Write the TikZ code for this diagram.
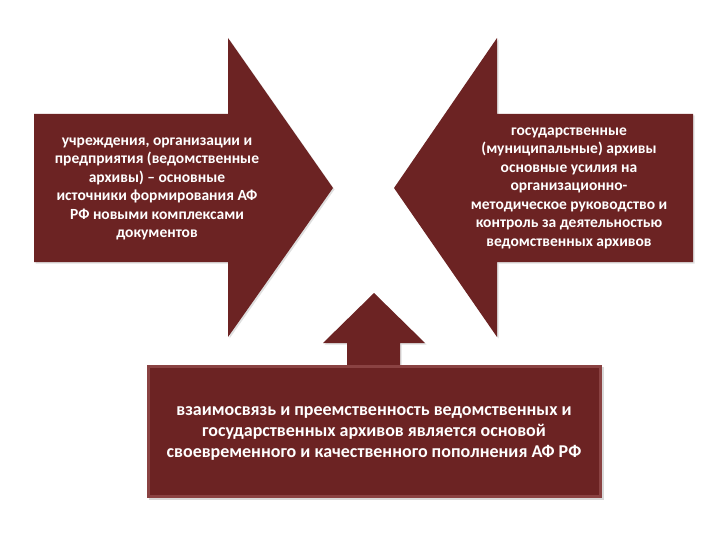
\documentclass[tikz,border=0pt]{standalone}
\usepackage{fontspec}
\setmainfont{Carlito}
\usetikzlibrary{shadows,positioning}
\definecolor{archRed}{RGB}{108,35,35}
\definecolor{archEdge}{RGB}{138,66,66}

\begin{document}
\begin{tikzpicture}[x=1pt,y=-1pt]

    \tikzstyle{commonText}=[text=white, font=\bfseries\fontsize{15.5}{18.5}\selectfont, align=center, inner sep=0pt]
    \tikzstyle{bigText}=[commonText, font=\bfseries\fontsize{18}{21}\selectfont]
    \tikzstyle{arrowBody}=[fill=archRed, drop shadow={shadow xshift=1.5pt, shadow yshift=-1.5pt, opacity=0.25}]
    \tikzstyle{bevelBox}=[fill=archEdge, drop shadow={shadow xshift=1.5pt, shadow yshift=-2pt, opacity=0.3}]

    \useasboundingbox (0,0) rectangle (720,540);

    % Spacing the shapes out
    \def \bodyTop {114}
    \def \bodyBot {262}
    \def \headTop {38}
    \def \headBot {337}
    \def \midY {188}

    % Left arrow
    \path[arrowBody] (34,\bodyTop) -- (228,\bodyTop) -- (228,\headTop) -- (333,\midY)
        -- (228,\headBot) -- (228,\bodyBot) -- (34,\bodyBot) -- cycle;

    % Right arrow
    \path[arrowBody] (693,\bodyTop) -- (497,\bodyTop) -- (497,\headTop) -- (394,\midY)
        -- (497,\headBot) -- (497,\bodyBot) -- (693,\bodyBot) -- cycle;

    % Up arrow
    \path[arrowBody] (374,293) -- (425,343) -- (400,343) -- (400,372)
        -- (347,372) -- (347,343) -- (323,343) -- cycle;

    % Bottom box
    \path[bevelBox] (147,365) rectangle (602,498);
    \fill[archRed] (150,368) rectangle (599,495);

    % Texts
    \node[commonText] (sources) at (157,189)
        {учреждения, организации и\\
         предприятия (ведомственные\\
         архивы) -- основные\\
         источники формирования АФ\\
         РФ новыми комплексами\\
         документов};
    \node[commonText] (stateArchives) at (569,188)
        {государственные\\
         (муниципальные) архивы\\
         основные усилия на\\
         организационно-\\
         методическое руководство и\\
         контроль за деятельностью\\
         ведомственных архивов};
    \node[bigText] (interaction) at (374,433)
        {взаимосвязь и преемственность ведомственных и\\
         государственных архивов является основой\\
         своевременного и качественного пополнения АФ РФ};

\end{tikzpicture}
\end{document}
